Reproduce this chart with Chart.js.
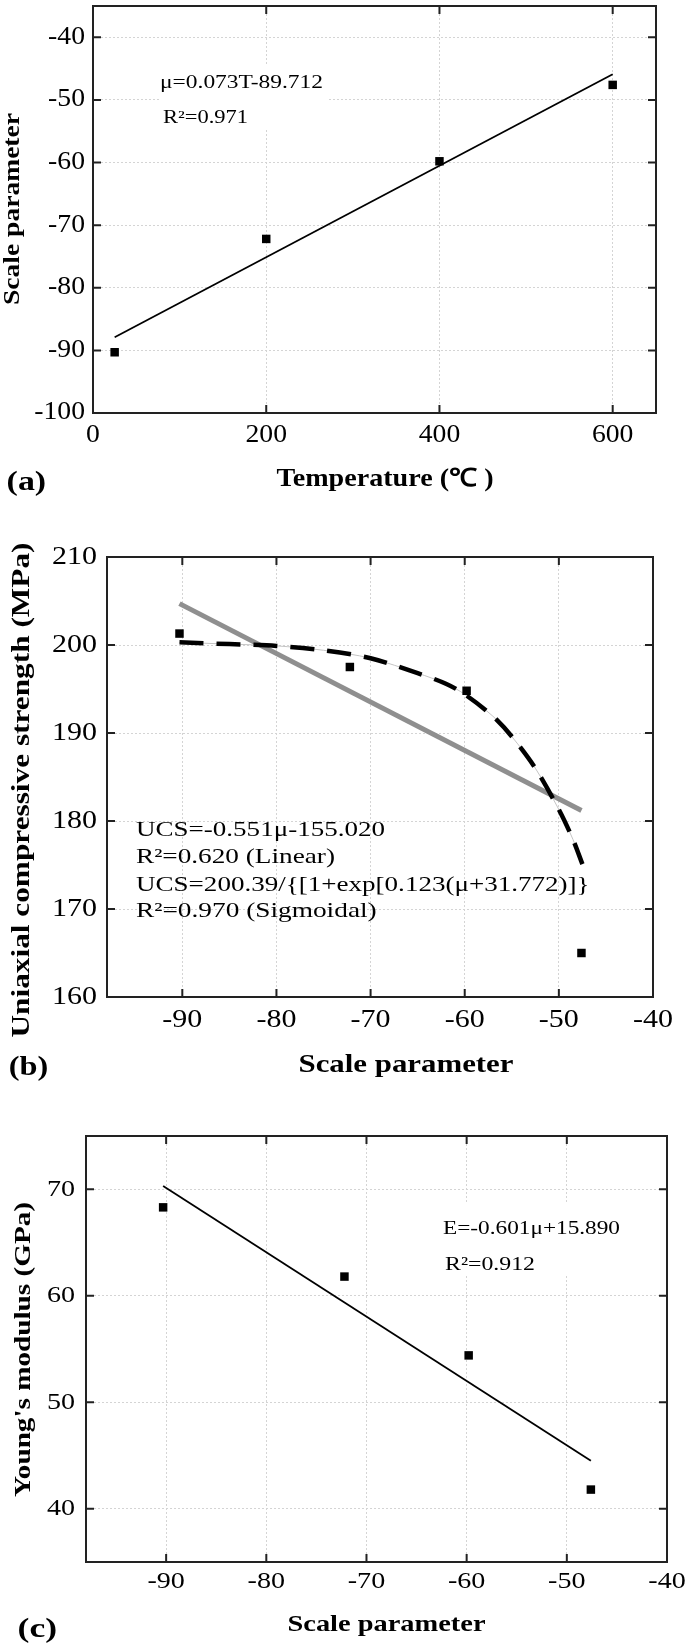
<!DOCTYPE html>
<html>
<head>
<meta charset="utf-8">
<script src="https://cdn.jsdelivr.net/npm/chart.js@4.4.1/dist/chart.umd.min.js"></script>
<style>
  html, body { margin: 0; padding: 0; background: #fff; }
  #page { position: relative; width: 685px; height: 1650px; overflow: hidden; }
  canvas { position: absolute; left: 0; }
</style>
</head>
<body>
<div id="page">
  <canvas id="chartA" width="685" height="510" style="top:0px"></canvas>
  <canvas id="chartB" width="685" height="580" style="top:510px"></canvas>
  <canvas id="chartC" width="685" height="560" style="top:1090px"></canvas>
</div>
<script>
// --- Data ---
const temperature = [25, 200, 400, 600];
const scaleParam = [-90.3, -72.2, -59.8, -47.6];
const ucs = [201.3, 197.5, 194.8, 165.0];
const youngs = [68.3, 61.8, 54.4, 41.8];

// fitted lines / curve, as drawn
const fitTempT = [25, 600];
const fitTempMu = [-87.9, -45.9];
const linUcsMu = [-90.3, -47.6];
const linUcs = [204.7, 181.2];
const sigUcsMu = [-90.3, -85, -80, -75, -70, -65, -62, -60, -57, -55, -52.5, -50, -48.5, -47.5];
const sigUcs = [200.3, 200.1, 199.9, 199.4, 198.5, 196.8, 195.6, 194.4, 191.9, 189.6, 186.0, 181.3, 177.9, 175.1];
const linEMu = [-90.3, -47.6];
const linE = [70.3, 44.5];

// tick labels
const tempTicks = [0, 200, 400, 600];
const scaleTicksA = [-100, -90, -80, -70, -60, -50, -40];
const scaleTicksBC = [-90, -80, -70, -60, -50, -40];
const ucsTicks = [160, 170, 180, 190, 200, 210];
const youngsTicks = [40, 50, 60, 70];

const SERIF = "'Liberation Serif', 'Times New Roman', Times, serif";
const font = (size, bold) => (bold ? 'bold ' : '') + size + 'px ' + SERIF;
const pts = (xs, ys) => xs.map((x, i) => ({ x, y: ys[i] }));

// text in the figure is wide, so it is drawn stretched horizontally
function drawText(ctx, t) {
    ctx.save();
    ctx.font = t.font;
    ctx.fillStyle = '#000';
    ctx.textAlign = t.align || 'left';
    ctx.textBaseline = t.base || 'alphabetic';
    ctx.translate(t.x, t.y);
    if (t.rot) ctx.rotate(-Math.PI / 2);
    const sx = t.w ? t.w / ctx.measureText(t.text).width : (t.sx || 1);
    ctx.scale(sx, 1);
    ctx.fillText(t.text, 0, 0);
    ctx.restore();
}

// frame, inward ticks, tick labels, titles and equations
function panelPlugin(p) {
    return {
        id: 'panel' + p.name,
        beforeDatasetsDraw(chart) {
            if (!p.box) return;
            const ctx = chart.ctx;
            ctx.save();
            ctx.fillStyle = '#fff';
            ctx.fillRect(p.box[0], p.box[1] - p.top, p.box[2] - p.box[0], p.box[3] - p.box[1]);
            ctx.restore();
        },
        afterDraw(chart) {
            const ctx = chart.ctx, a = chart.chartArea;
            const xs = chart.scales.x, ys = chart.scales.y;
            ctx.save();
            ctx.strokeStyle = '#222';
            ctx.lineWidth = 2;
            ctx.beginPath();
            xs.ticks.forEach(t => {
                const px = xs.getPixelForValue(t.value);
                ctx.moveTo(px, a.bottom); ctx.lineTo(px, a.bottom - 8);
                ctx.moveTo(px, a.top); ctx.lineTo(px, a.top + 8);
            });
            ys.ticks.forEach(t => {
                const py = ys.getPixelForValue(t.value);
                ctx.moveTo(a.left, py); ctx.lineTo(a.left + 8, py);
                ctx.moveTo(a.right, py); ctx.lineTo(a.right - 8, py);
            });
            ctx.stroke();
            ctx.strokeRect(a.left, a.top, a.right - a.left, a.bottom - a.top);
            ctx.restore();

            xs.ticks.forEach(t => drawText(ctx, {
                text: String(t.value), x: xs.getPixelForValue(t.value), y: a.bottom + p.xGap,
                font: p.tickFont, align: 'center', base: 'middle', sx: p.tickSx
            }));
            ys.ticks.forEach(t => drawText(ctx, {
                text: String(t.value), x: a.left - p.yGap, y: ys.getPixelForValue(t.value),
                font: p.tickFont, align: 'right', base: 'middle', sx: p.tickSx
            }));
            p.texts.forEach(t => drawText(ctx, Object.assign({}, t, { y: t.y - p.top })));
        }
    };
}

function axis(range, ticks) {
    return {
        type: 'linear',
        min: range[0],
        max: range[1],
        afterBuildTicks: s => { s.ticks = ticks.map(v => ({ value: v })); },
        ticks: { display: false },
        grid: { color: '#d4d4d4', lineWidth: 1, drawTicks: false },
        border: { display: false, dash: [2, 2] },
        title: { display: false }
    };
}

function makeChart(id, p, datasets, xRange, yRange, xTicks, yTicks) {
    return new Chart(document.getElementById(id), {
        type: 'scatter',
        data: { datasets },
        options: {
            responsive: false,
            animation: false,
            devicePixelRatio: 1,
            events: [],
            layout: { padding: p.padding },
            plugins: { legend: { display: false }, tooltip: { enabled: false } },
            scales: { x: axis(xRange, xTicks), y: axis(yRange, yTicks) }
        },
        plugins: [panelPlugin(p)]
    });
}

const markers = data => ({
    data, pointStyle: 'rect', pointRadius: 6, pointBackgroundColor: '#000', pointBorderWidth: 0
});
const fitLine = (data, color, width) => ({
    data, showLine: true, pointRadius: 0, borderColor: color, borderWidth: width
});

// --- Panel (a) ---
makeChart('chartA', {
    name: 'A', top: 0,
    padding: { left: 93, right: 29, top: 3, bottom: 97 },
    tickFont: font(24.5), tickSx: 1.13, xGap: 23, yGap: 8,
    box: [160, 66, 328, 130],
    texts: [
        { text: 'Scale parameter', x: 12.7, y: 209, font: font(23, true), align: 'center', base: 'middle', rot: true, w: 192 },
        { text: 'Temperature (℃ )', x: 385, y: 479.5, font: font(25, true), align: 'center', base: 'middle', w: 217 },
        { text: '(a)', x: 6.6, y: 482.5, font: font(28, true), base: 'middle', w: 39.5 },
        { text: 'μ=0.073T-89.712', x: 160, y: 88, font: font(18.5), w: 163 },
        { text: 'R²=0.971', x: 163, y: 123, font: font(18.5), w: 85 }
    ]
}, [
    markers(pts(temperature, scaleParam)),
    fitLine(pts(fitTempT, fitTempMu), '#000', 1.8)
], [0, 650], [-100, -35], tempTicks, scaleTicksA);

// --- Panel (b) ---
makeChart('chartB', {
    name: 'B', top: 510,
    padding: { left: 107, right: 32, top: 47, bottom: 93 },
    tickFont: font(25), tickSx: 1.2, xGap: 23, yGap: 10,
    texts: [
        { text: 'Uniaxial compressive strength (MPa)', x: 22.5, y: 790, font: font(25, true), align: 'center', base: 'middle', rot: true, w: 495 },
        { text: 'Scale parameter', x: 406, y: 1066, font: font(25, true), align: 'center', base: 'middle', w: 215 },
        { text: '(b)', x: 8.8, y: 1067.5, font: font(28, true), base: 'middle', w: 39.5 },
        { text: 'UCS=-0.551μ-155.020', x: 136, y: 836, font: font(21), w: 249 },
        { text: 'R²=0.620 (Linear)', x: 136, y: 863, font: font(21), w: 199 },
        { text: 'UCS=200.39/{[1+exp[0.123(μ+31.772)]}', x: 136, y: 890.5, font: font(21), w: 453.6 },
        { text: 'R²=0.970 (Sigmoidal)', x: 136, y: 917, font: font(21), w: 240.7 }
    ]
}, [
    markers(pts(scaleParam, ucs)),
    Object.assign(fitLine(pts(sigUcsMu, sigUcs), '#000', 4.5), { borderDash: [24, 13], tension: 0.3 }),
    Object.assign(fitLine(pts(sigUcsMu, sigUcs), '#c4c4c4', 1), { tension: 0.3 }),
    fitLine(pts(linUcsMu, linUcs), '#8f8f8f', 5)
], [-98, -40], [160, 210], scaleTicksBC, ucsTicks);

// --- Panel (c) ---
makeChart('chartC', {
    name: 'C', top: 1090,
    padding: { left: 86, right: 18, top: 46, bottom: 88 },
    tickFont: font(24), tickSx: 1.17, xGap: 20, yGap: 11,
    box: [440, 1202, 620, 1276],
    texts: [
        { text: "Young's modulus (GPa)", x: 24, y: 1349.5, font: font(24, true), align: 'center', base: 'middle', rot: true, w: 295 },
        { text: 'Scale parameter', x: 386.5, y: 1625, font: font(24, true), align: 'center', base: 'middle', w: 198 },
        { text: '(c)', x: 17.6, y: 1630, font: font(28, true), base: 'middle', w: 39.5 },
        { text: 'E=-0.601μ+15.890', x: 443, y: 1234, font: font(19), w: 177 },
        { text: 'R²=0.912', x: 445, y: 1270, font: font(19), w: 90 }
    ]
}, [
    markers(pts(scaleParam, youngs)),
    fitLine(pts(linEMu, linE), '#000', 1.8)
], [-98, -40], [35, 75], scaleTicksBC, youngsTicks);
</script>
</body>
</html>
